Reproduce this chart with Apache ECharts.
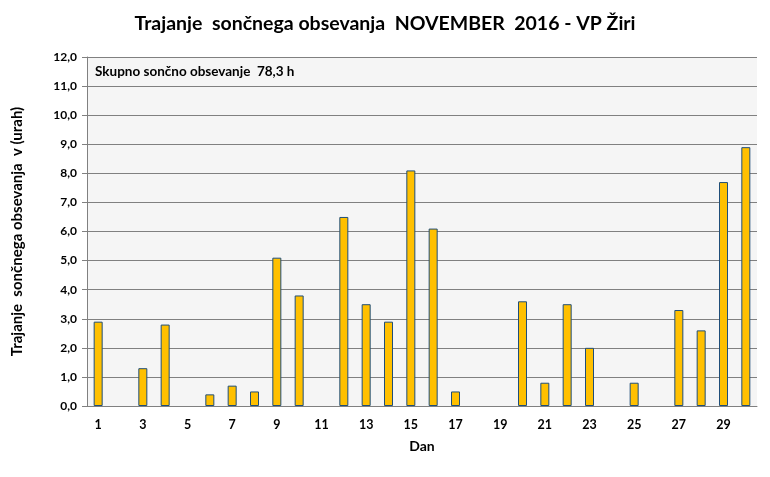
<!DOCTYPE html>
<html><head><meta charset="utf-8">
<script src="https://cdn.jsdelivr.net/npm/echarts@6/dist/echarts.min.js"></script>
<style>html,body{margin:0;padding:0;background:#fff}#c{width:770px;height:477px}</style>
</head><body><div id="c"></div>
<script>
const days = ['1','2','3','4','5','6','7','8','9','10','11','12','13','14','15','16','17','18','19','20','21','22','23','24','25','26','27','28','29','30'];
const sunHours = [2.9,0,1.3,2.8,0,0.4,0.7,0.5,5.1,3.8,0,6.5,3.5,2.9,8.1,6.1,0.5,0,0,3.6,0.8,3.5,2.0,0,0.8,0,3.3,2.6,7.7,8.9];
const titleText = 'Trajanje  sončnega obsevanja  NOVEMBER  2016 - VP Žiri';
const totalText = 'Skupno sončno obsevanje  78,3 h';
const FONT = 'Lato';
const barData = sunHours.map(v => v === 0 ? {value: v, itemStyle: {borderWidth: 0}} : v);
const chart = echarts.init(document.getElementById('c'));
chart.setOption({
  animation: false,
  backgroundColor: '#fff',
  title: [
    {text: titleText, left: 'center', top: 9, textStyle: {fontFamily: FONT, fontSize: 19.5, fontWeight: 'bold', color: '#000'}},
    {text: totalText, left: 90, top: 60, textStyle: {fontFamily: FONT, fontSize: 13.5, fontWeight: 'bold', color: '#000'}}
  ],
  grid: {left: 87, right: 13, top: 57, bottom: 71, show: true, backgroundColor: '#f5f5f5', borderWidth: 0},
  xAxis: {
    type: 'category', data: days,
    name: 'Dan', nameLocation: 'middle', nameGap: 33,
    nameTextStyle: {fontFamily: FONT, fontSize: 14, fontWeight: 'bold', color: '#000'},
    axisLine: {lineStyle: {color: '#808080', width: 1}},
    axisTick: {show: false},
    axisLabel: {interval: 1, fontFamily: FONT, fontSize: 12.5, fontWeight: 'bold', color: '#000', margin: 12}
  },
  yAxis: {
    type: 'value', min: 0, max: 12, interval: 1,
    name: 'Trajanje  sončnega obsevanja  v (urah)', nameLocation: 'middle', nameGap: 62,
    nameTextStyle: {fontFamily: FONT, fontSize: 15, fontWeight: 'bold', color: '#000'},
    axisLine: {show: true, lineStyle: {color: '#808080'}},
    axisTick: {show: true, length: 5, lineStyle: {color: '#808080'}},
    splitLine: {lineStyle: {color: '#808080', width: 1}},
    axisLabel: {fontFamily: FONT, fontSize: 12, fontWeight: 'bold', color: '#000', margin: 10,
      formatter: v => v.toFixed(1).replace('.', ',')}
  },
  series: [{
    type: 'bar', data: barData, barWidth: 9,
    itemStyle: {color: '#ffc000', borderColor: '#1f4e79', borderWidth: 1}
  }]
});
</script></body></html>
